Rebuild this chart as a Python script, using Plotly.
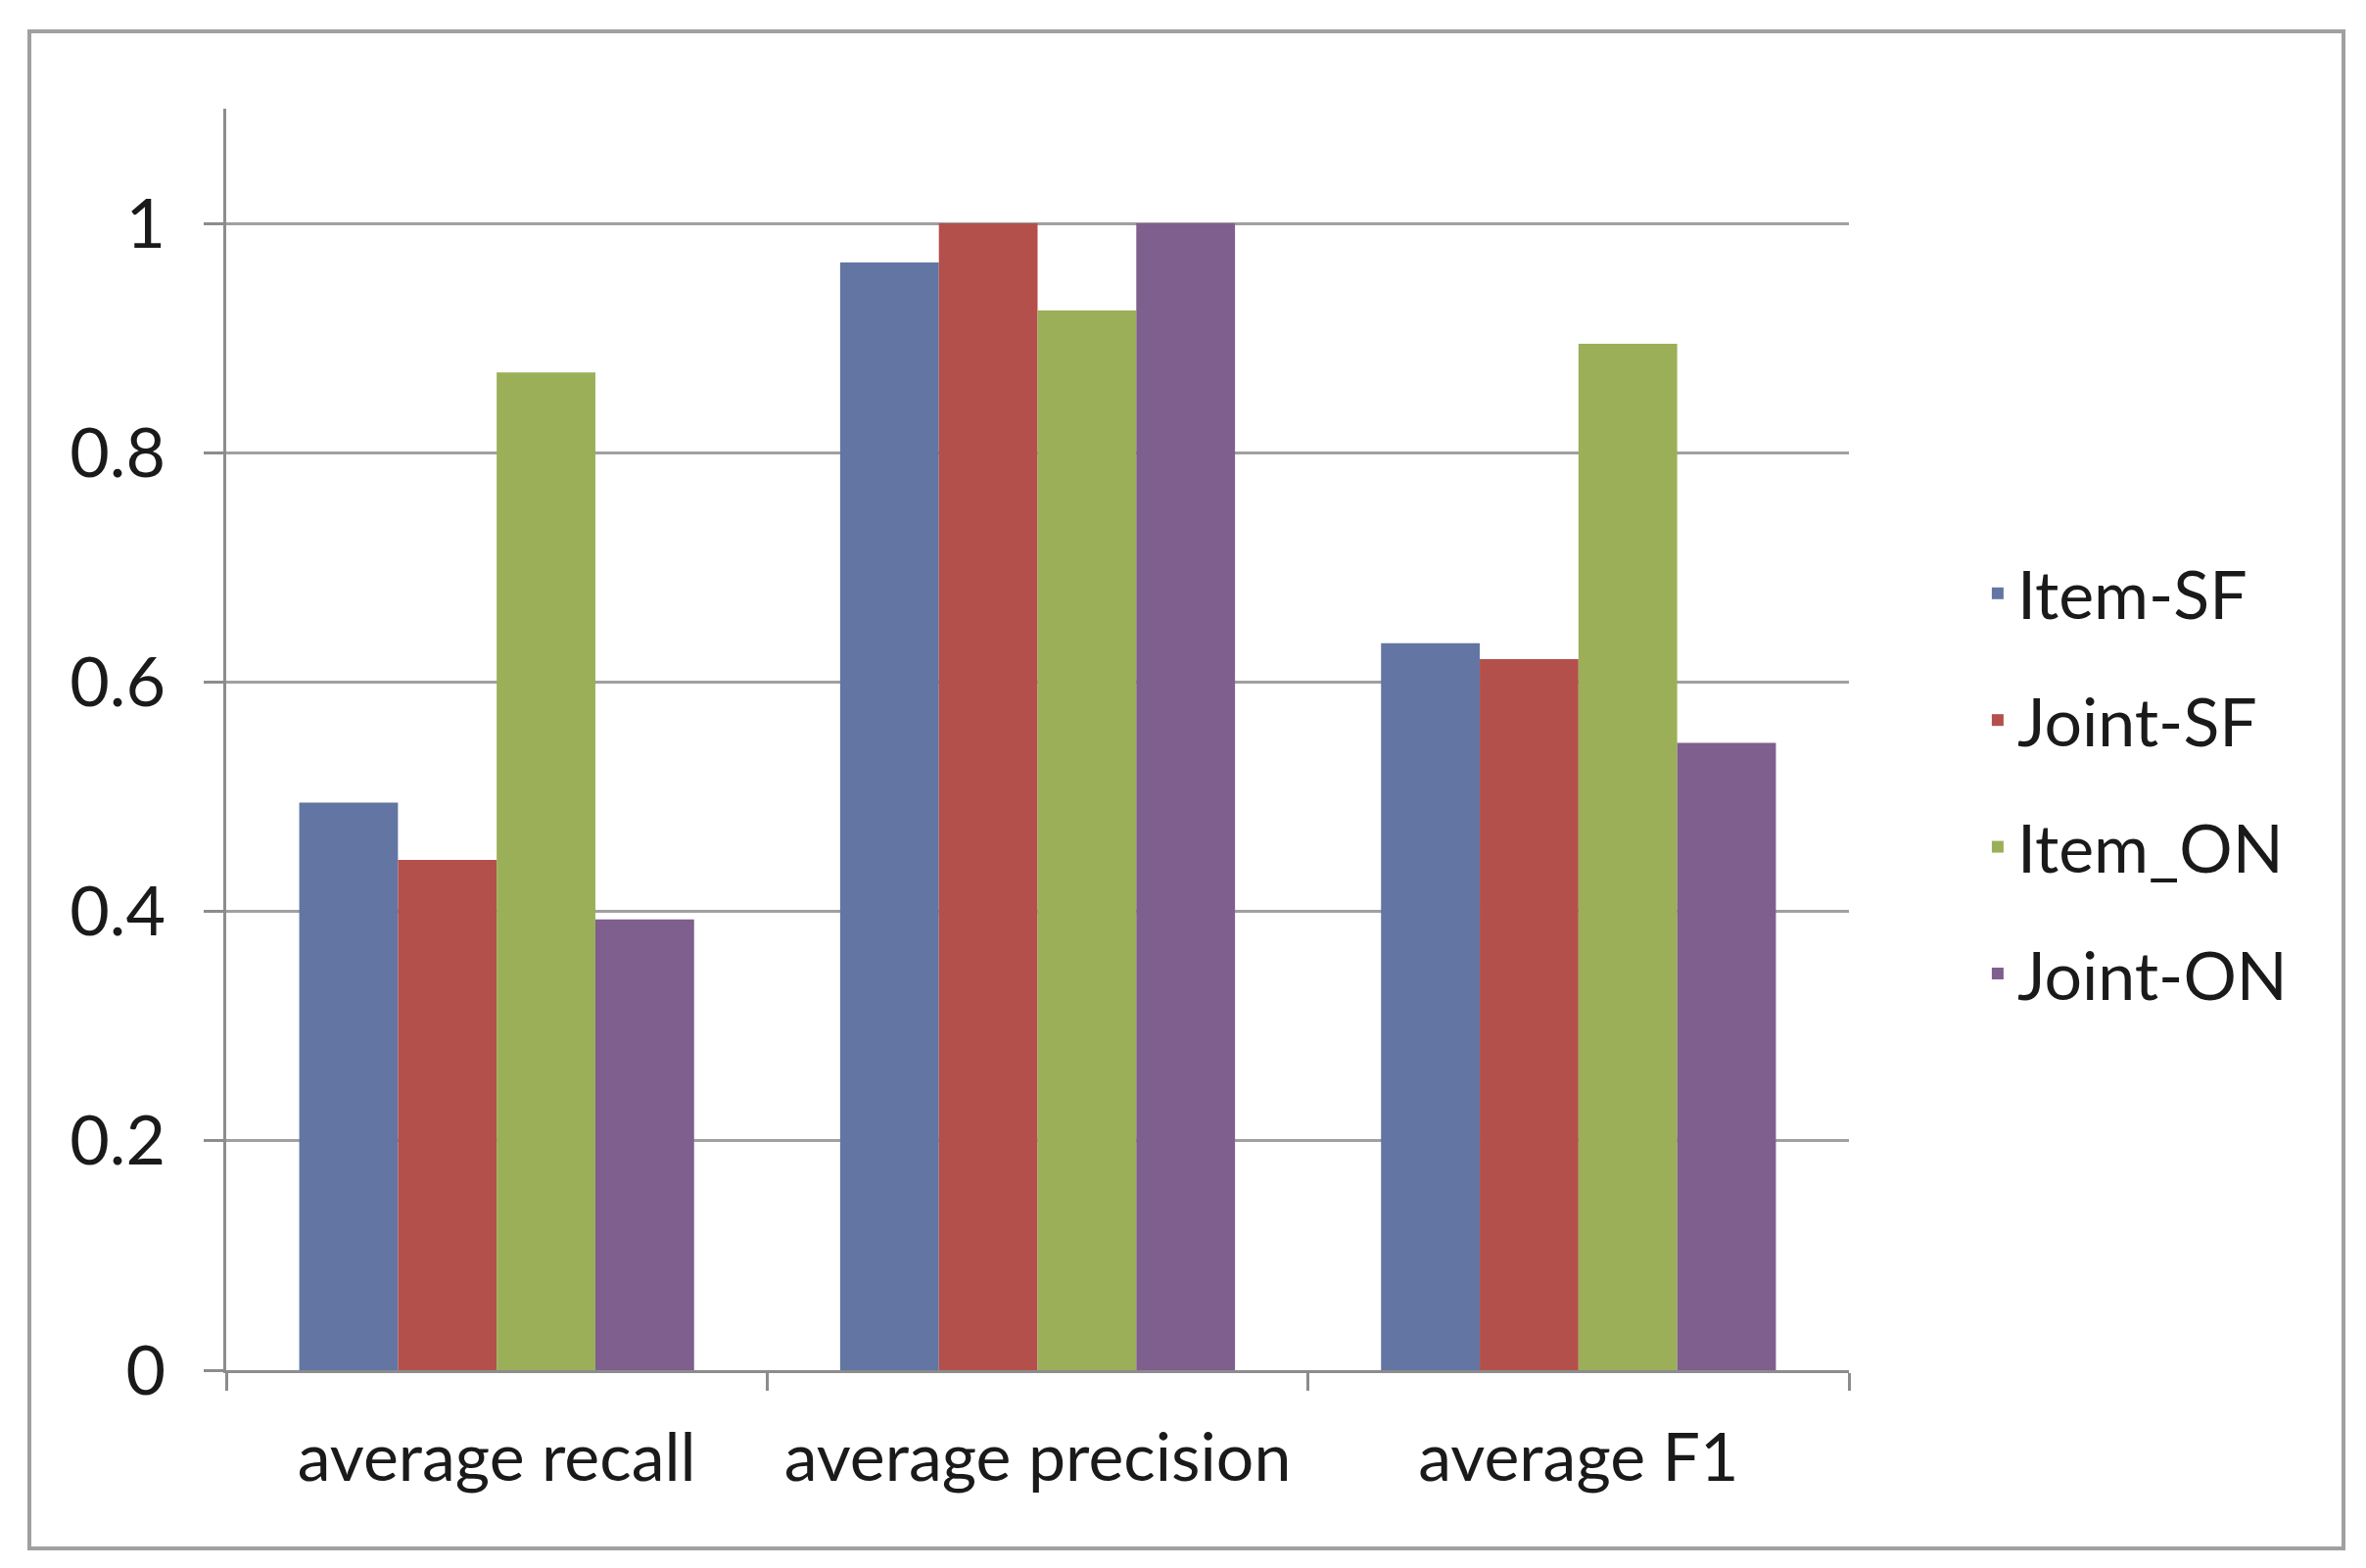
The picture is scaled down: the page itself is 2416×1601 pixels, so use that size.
import plotly.graph_objects as go

categories = ["average recall", "average precision", "average F1"]
series_names = ["Item-SF", "Joint-SF", "Item_ON", "Joint-ON"]
item_sf = [0.495, 0.966, 0.634]
joint_sf = [0.445, 1.0, 0.620]
item_on = [0.870, 0.924, 0.895]
joint_on = [0.393, 1.0, 0.547]
y_ticks = [0, 0.2, 0.4, 0.6, 0.8, 1.0]
y_tick_labels = ["0", "0.2", "0.4", "0.6", "0.8", "1"]

colors = ["#6275A3", "#B4504B", "#9BAF58", "#7F5F8D"]
series_values = [item_sf, joint_sf, item_on, joint_on]

W, H = 2416, 1601
L, R, T, B = 223, 1880, 103, 1391  # plot area in pixels

fig = go.Figure()
for name, vals, col in zip(series_names, series_values, colors):
    fig.add_trace(go.Bar(x=categories, y=vals, name=name, legendgroup=name,
                         marker=dict(color=col, line=dict(width=0))))

font_family = "Lato, 'Open Sans', sans-serif"
fig.update_layout(
    width=W, height=H,
    margin=dict(l=L, r=W - R, t=T, b=H - B),
    paper_bgcolor="white", plot_bgcolor="white",
    barmode="group", bargap=0.27, bargroupgap=0,
    font=dict(family=font_family, size=68, color="#1a1a1a"),
    legend=dict(x=1.0796, xanchor="left", y=0.465, yanchor="middle",
                font=dict(size=68), tracegroupgap=38,
                bgcolor="rgba(0,0,0,0)"),
    showlegend=True,
)
fig.update_xaxes(
    showline=True, linecolor="#8C8C8C", linewidth=3,
    ticks="outside", tickson="boundaries", ticklen=18, tickwidth=3, tickcolor="#8C8C8C",
    showgrid=False, ticklabelstandoff=28,
    tickfont=dict(size=68),
)
fig.update_yaxes(
    range=[0, 1.1], tickvals=y_ticks, ticktext=y_tick_labels,
    showline=True, linecolor="#8C8C8C", linewidth=3,
    ticks="outside", ticklen=20, tickwidth=3, tickcolor="#8C8C8C",
    showgrid=True, gridcolor="#A0A0A0", gridwidth=3,
    zeroline=False, ticklabelstandoff=25,
    tickfont=dict(size=70),
)

# outer chart border
pw, ph = R - L, B - T
fig.add_shape(type="rect", xref="paper", yref="paper",
              x0=(22 - L) / pw, x1=(2385 - L) / pw,
              y0=(B - 1573) / ph, y1=(B - 24) / ph,
              line=dict(color="#A0A0A0", width=4), fillcolor="rgba(0,0,0,0)", layer="below")

fig.write_html("out.html")
